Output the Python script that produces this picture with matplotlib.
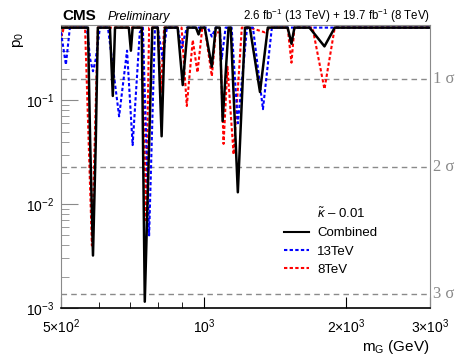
import numpy as np
import matplotlib
matplotlib.use("Agg")
import matplotlib.pyplot as plt
from matplotlib.lines import Line2D
from matplotlib.ticker import FixedLocator, NullFormatter

# local p-value scans (mass in GeV, p0)
m_comb = [500, 562, 570, 576, 584, 592, 598, 634, 643, 650, 695, 702, 708, 740, 751, 779,
          800, 815, 828, 881, 903, 925, 963, 975, 985, 1005, 1040, 1060, 1081, 1096, 1128,
          1140, 1180, 1222, 1251, 1314, 1365, 1503, 1531, 1553, 1671, 1797, 1889, 3000]
p_comb = [0.5, 0.5, 0.5, 0.04, 0.0032, 0.04, 0.5, 0.5, 0.11, 0.5, 0.5, 0.3, 0.5, 0.5, 0.00115, 0.5,
          0.5, 0.045, 0.5, 0.5, 0.14, 0.5, 0.5, 0.43, 0.5, 0.5, 0.21, 0.5, 0.5, 0.063, 0.5,
          0.5, 0.013, 0.5, 0.5, 0.12, 0.5, 0.5, 0.35, 0.5, 0.5, 0.33, 0.5, 0.5]

m_13 = [500, 512, 522, 567, 576, 584, 592, 604, 628, 663, 689, 708, 733, 744, 767, 789,
        800, 819, 836, 881, 898, 921, 1020, 1040, 1060, 1081, 1091, 1112, 1145, 1180, 1234,
        1270, 1333, 1392, 3000]
p_13 = [0.45, 0.22, 0.5, 0.5, 0.25, 0.19, 0.25, 0.5, 0.5, 0.07, 0.3, 0.037, 0.45, 0.5, 0.005, 0.5,
        0.5, 0.25, 0.5, 0.5, 0.32, 0.5, 0.5, 0.41, 0.5, 0.5, 0.25, 0.5, 0.5, 0.06, 0.5,
        0.5, 0.082, 0.5, 0.5]

m_8 = [500, 502, 507, 562, 581, 598, 744, 755, 767, 800, 812, 825, 898, 921, 948, 970,
       993, 1005, 1040, 1060, 1081, 1101, 1122, 1156, 1203, 1251, 1346, 1379, 1503, 1531,
       1553, 1696, 1797, 1889, 3000]
p_8 = [0.5, 0.42, 0.5, 0.5, 0.004, 0.5, 0.5, 0.007, 0.5, 0.5, 0.12, 0.5, 0.5, 0.088, 0.38, 0.185,
       0.5, 0.5, 0.17, 0.45, 0.45, 0.038, 0.21, 0.03, 0.5, 0.5, 0.45, 0.5, 0.5, 0.23,
       0.5, 0.5, 0.128, 0.5, 0.5]

sig_p = [0.1587, 0.02275, 0.00135]
sig_labels = ["1 σ", "2 σ", "3 σ"]

x_ticks = [500, 1000, 2000, 3000]
x_ticklabels = ["5×10$^2$", "10$^3$", "2×10$^3$", "3×10$^3$"]

plt.rcParams['font.family'] = ['Liberation Sans', 'DejaVu Sans']
plt.rcParams['mathtext.fontset'] = 'custom'
plt.rcParams['mathtext.rm'] = 'Liberation Sans'
plt.rcParams['mathtext.it'] = 'Liberation Sans:italic'

fig = plt.figure(figsize=(4.69, 3.59), dpi=100)
ax = fig.add_axes([61 / 469, 51 / 359, 369 / 469, 283 / 359])
ax.set_xscale('log')
ax.set_yscale('log')
ax.set_xlim(500, 3000)
ax.set_ylim(1e-3, 0.53)

grey = '#8a8a8a'
for p, lab in zip(sig_p, sig_labels):
    ax.axhline(p, color=grey, lw=1.0, ls=(0, (4, 3)), zorder=1)
    ax.text(1.008, p, lab, transform=ax.get_yaxis_transform(), color=grey,
            fontsize=12, family='Liberation Serif', va='center', ha='left')

dash = (0, (1.6, 1.1))
ax.plot(m_13, p_13, color='blue', lw=1.5, ls=dash, zorder=3)
ax.plot(m_8, p_8, color='red', lw=1.5, ls=dash, zorder=2)
ax.plot(m_comb, p_comb, color='black', lw=1.8, zorder=4)

ax.xaxis.set_major_locator(FixedLocator(x_ticks))
ax.set_xticklabels(x_ticklabels)
ax.xaxis.set_minor_locator(FixedLocator([600, 700, 800, 900]))
ax.xaxis.set_minor_formatter(NullFormatter())
ax.tick_params(axis='both', which='both', direction='in', labelsize=10, top=False, right=False)
ax.tick_params(axis='x', which='major', length=8, pad=7)
ax.tick_params(axis='x', which='minor', length=4)
ax.tick_params(axis='y', which='major', length=12, color=grey, pad=5)
ax.tick_params(axis='y', which='minor', length=6, color=grey)

for side in ['left', 'top', 'right']:
    ax.spines[side].set_color(grey)
ax.spines['bottom'].set_color('black')
ax.spines['bottom'].set_linewidth(1.2)

handles = [Line2D([], [], color='none'),
           Line2D([], [], color='black', lw=1.5),
           Line2D([], [], color='blue', lw=1.5, ls=dash),
           Line2D([], [], color='red', lw=1.5, ls=dash)]
labels = ["$\\tilde{\\kappa}$ – 0.01", "Combined", "13TeV", "8TeV"]
ax.legend(handles, labels, loc='upper left', bbox_to_anchor=(0.605, 0.358), frameon=False,
          fontsize=9.5, handlelength=1.9, handletextpad=0.6, labelspacing=0.45, borderpad=0,
          borderaxespad=0)

fig.text(62 / 469, 1 - 20 / 359, "CMS", fontsize=11, fontweight='bold', va='baseline')
fig.text(108 / 469, 1 - 20 / 359, "Preliminary", fontsize=9, style='italic', va='baseline')
fig.text(430 / 469, 1 - 20 / 359, "2.6 fb$^{-1}$ (13 TeV) + 19.7 fb$^{-1}$ (8 TeV)",
         fontsize=8.3, ha='right', va='baseline')
fig.text(18 / 469, 1 - 40 / 359, "p$_0$", fontsize=11, rotation=90, ha='center', va='center')
fig.text(430 / 469, 1 - 347 / 359, "m$_{\\mathrm{G}}$ (GeV)", fontsize=11, ha='right', va='center')

fig.savefig("out.png", dpi=100)
